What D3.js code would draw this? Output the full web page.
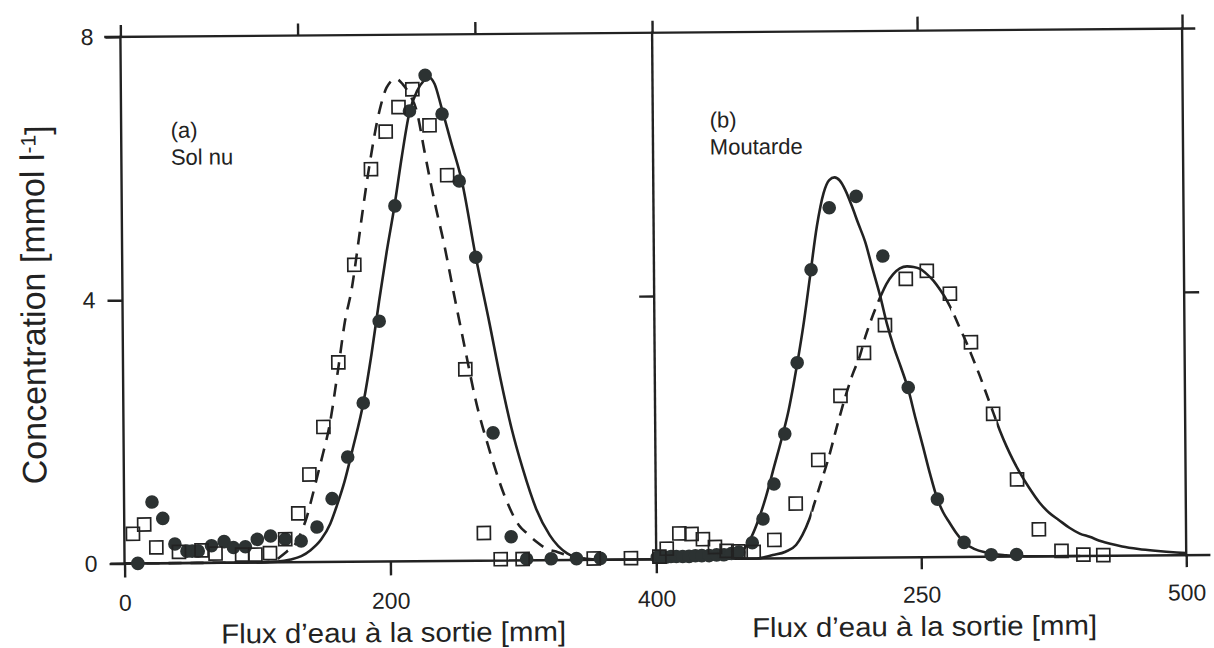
<!DOCTYPE html>
<html><head><meta charset="utf-8">
<script src="https://cdn.jsdelivr.net/npm/d3@7"></script>
<style>
html,body{margin:0;padding:0;background:#fff;}
svg{display:block;background:#fff;}
text{font-family:"Liberation Sans", Arial, Helvetica, sans-serif; fill:#222;}
</style></head><body>
<svg id="chart" width="1214" height="648"></svg>
<script>
// ---------- tick values ----------
const yTicks = [0, 4, 8];
const xTicksA = [0, 200, 400];
const xTicksB = [250, 500];
const topTicksA = [0, 133.3, 266.7, 400];
const topTicksB = [250, 500];

// ---------- panel (a) Sol nu : observed points ----------
const circA_x = [10, 21, 29, 38, 47, 51, 55.5, 65.5, 75, 82, 91, 100, 110, 121, 133, 145, 156.5, 168.5, 180.5, 193, 205.5, 217, 229, 241.5, 254, 266, 278, 291, 302.5, 321, 340, 358];
const circA_y = [0.0, 0.93, 0.68, 0.29, 0.18, 0.18, 0.18, 0.26, 0.32, 0.23, 0.24, 0.35, 0.40, 0.35, 0.32, 0.53, 0.96, 1.59, 2.41, 3.65, 5.40, 6.84, 7.38, 6.79, 5.77, 4.61, 1.94, 0.36, 0.02, 0.02, 0.02, 0.02];
const sqA_x = [6.5, 15, 24, 41, 58, 68.5, 88.5, 98.5, 109.5, 121, 131, 139.6, 150.4, 162, 174.6, 187.7, 199, 208.8, 219.3, 232, 245, 257.5, 270.5, 283, 299.5, 353, 381];
const sqA_y = [0.45, 0.59, 0.24, 0.17, 0.19, 0.14, 0.12, 0.12, 0.14, 0.35, 0.74, 1.33, 2.05, 3.03, 4.51, 5.96, 6.53, 6.90, 7.17, 6.62, 5.86, 2.91, 0.42, 0.02, 0.02, 0.02, 0.02];
// ---------- panel (a) fitted curves ----------
const fitA_solid_x = [0, 100, 115, 125, 133, 140, 148, 155, 160, 166, 172, 181, 187, 193, 199, 205, 211, 217, 223, 228, 231.5, 236, 241, 248, 256, 266, 276, 284, 292, 300, 310, 320, 333, 345, 360, 400];
const fitA_solid_y = [0, 0, 0.01, 0.04, 0.09, 0.18, 0.34, 0.58, 0.85, 1.22, 1.69, 2.45, 3.15, 3.95, 4.7, 5.38, 6.15, 6.82, 7.15, 7.3, 7.35, 7.25, 6.9, 6.37, 5.77, 4.62, 3.6, 2.75, 2.0, 1.4, 0.78, 0.38, 0.1, 0.02, 0, 0];
const fitA_dash_x = [0, 100, 113, 117, 122, 128.4, 133, 137.3, 141, 146, 150, 154.7, 162, 167.3, 172.3, 177.8, 181, 186, 194.5, 200, 207, 212, 217, 222.3, 228.3, 232, 236.6, 241.6, 249.7, 257.5, 265, 275, 287.5, 297, 303.5, 310, 317, 326, 340, 360];
const fitA_dash_y = [0, 0, 0.02, 0.08, 0.16, 0.27, 0.45, 0.68, 0.95, 1.34, 1.65, 2.04, 2.95, 3.66, 4.12, 4.85, 5.3, 5.95, 6.85, 7.2, 7.33, 7.25, 7.1, 6.85, 6.2, 5.8, 5.34, 4.88, 4.02, 3.21, 2.45, 1.69, 0.92, 0.53, 0.4, 0.28, 0.18, 0.12, 0.03, 0];

// ---------- panel (b) Moutarde : observed points ----------
const circB_x = [1, 5, 9, 14, 19, 25, 31, 37, 43, 50, 57, 64, 71, 78, 90.7, 101, 111.6, 122.2, 134.4, 148.2, 165.8, 191.3, 216, 239, 265.7, 290.5, 316, 340];
const circB_y = [0.03, 0.03, 0.03, 0.04, 0.04, 0.04, 0.04, 0.05, 0.05, 0.05, 0.06, 0.06, 0.08, 0.1, 0.24, 0.6, 1.13, 1.89, 2.97, 4.38, 5.32, 5.49, 4.58, 2.58, 0.88, 0.22, 0.03, 0.03];
const sqB_x = [3, 10, 22, 33.5, 44.2, 55.5, 66.5, 77.5, 92, 111.6, 132, 153.6, 175, 197.5, 217.5, 237.5, 257.4, 279, 298.5, 318.9, 341, 361.2, 382.4, 403, 421.8];
const sqB_y = [0.04, 0.16, 0.39, 0.38, 0.3, 0.18, 0.12, 0.11, 0.1, 0.28, 0.83, 1.49, 2.46, 3.11, 3.53, 4.23, 4.35, 4.0, 3.26, 2.17, 1.17, 0.41, 0.08, 0.02, 0.01];
// ---------- panel (b) fitted curves ----------
const fitB_solid_x = [0, 65, 72, 78, 84, 90, 97, 104, 112, 120.6, 126, 130.5, 135.5, 140.4, 147.2, 154, 160.5, 166, 171, 176, 181, 187, 193, 199.4, 206, 213.4, 219.2, 226, 232, 239, 245.5, 252.5, 259, 265.7, 271, 277, 283.4, 290.5, 300, 312, 330, 350, 400];
const fitB_solid_y = [0, 0, 0.02, 0.07, 0.17, 0.33, 0.6, 0.94, 1.4, 1.9, 2.25, 2.61, 3.05, 3.52, 4.28, 5.04, 5.54, 5.74, 5.78, 5.73, 5.59, 5.35, 5.08, 4.8, 4.4, 3.96, 3.56, 3.18, 2.9, 2.55, 2.12, 1.68, 1.26, 0.88, 0.68, 0.52, 0.36, 0.22, 0.12, 0.06, 0.02, 0, 0];
const fitB_dash_x = [0, 95, 110, 122, 132, 138, 144.7, 150, 156, 163, 171, 178.7, 186, 193.9, 199, 204.5, 213.4, 219, 225.5, 232, 238.7, 245, 251, 257.4, 263.5, 269.8, 276, 282.2, 288, 294.4, 300.5, 306.8, 313, 319.2, 325, 331.4, 337.5, 343.8, 352, 362.3, 371, 380, 390, 399.7, 409, 420, 439.6, 455, 470.8, 491, 500];
const fitB_dash_y = [0, 0, 0.05, 0.1, 0.2, 0.35, 0.59, 0.85, 1.15, 1.5, 1.97, 2.4, 2.76, 3.08, 3.36, 3.61, 3.96, 4.15, 4.3, 4.39, 4.42, 4.41, 4.38, 4.3, 4.2, 4.06, 3.9, 3.7, 3.48, 3.25, 3.0, 2.74, 2.46, 2.18, 1.92, 1.67, 1.46, 1.27, 1.05, 0.81, 0.66, 0.55, 0.43, 0.34, 0.29, 0.22, 0.14, 0.1, 0.07, 0.04, 0.03];
// x-ranges of panel (b) squares fit drawn with visible dashes (elsewhere dashes merge into a solid line)
const dashRangesB = [[147, 213], [280, 322]];
const solidRangesB = [[0, 147], [213, 280], [322, 520]];

// ---------- drawing ----------
const svg = d3.select("#chart");
const root = svg.append("g").attr("transform", "rotate(-0.45 655 300)");

const xA = d3.scaleLinear().domain([0, 400]).range([122.5, 654.2]);
const xB = d3.scaleLinear().domain([0, 500]).range([654.2, 1184.2]);
const y = d3.scaleLinear().domain([0, 8]).range([559.3, 32.7]);

const INK = "#222";
const AXW = 2.4;

function styleAxis(g) {
  g.select(".domain").remove();
  g.selectAll(".tick line").attr("stroke", INK).attr("stroke-width", AXW);
  g.selectAll(".tick text").attr("fill", INK).style("font-size", "23px")
    .style("font-family", '"Liberation Sans", Arial, sans-serif');
}

// frame lines
const frame = root.append("g");
frame.append("line").attr("x1", xA(0) - 15).attr("x2", xB(500) + 12).attr("y1", y(8)).attr("y2", y(8));
frame.append("line").attr("x1", xA(0) - 13).attr("x2", xB(500) + 23).attr("y1", y(0)).attr("y2", y(0));
[xA(0), xB(0), xB(500)].forEach(px => {
  frame.append("line").attr("x1", px).attr("x2", px).attr("y1", y(8)).attr("y2", y(0));
});
frame.selectAll("line").attr("stroke", INK).attr("stroke-width", AXW).attr("stroke-linecap", "square");

// y axis (left)
root.append("g").attr("transform", `translate(${xA(0)},0)`)
  .call(d3.axisLeft(y).tickValues(yTicks).tickFormat(d3.format("d")).tickSize(15).tickPadding(12).tickSizeOuter(0))
  .call(styleAxis);
// middle axis tick at 4 (pointing left)
root.append("g").attr("transform", `translate(${xB(0)},0)`)
  .call(d3.axisLeft(y).tickValues([4]).tickFormat("").tickSize(15).tickSizeOuter(0))
  .call(styleAxis);
// right axis tick at 4 (pointing right)
root.append("g").attr("transform", `translate(${xB(500)},0)`)
  .call(d3.axisRight(y).tickValues([4]).tickFormat("").tickSize(15).tickSizeOuter(0))
  .call(styleAxis);
// bottom axes
root.append("g").attr("transform", `translate(0,${y(0)})`)
  .call(d3.axisBottom(xA).tickValues(xTicksA).tickFormat(d3.format("d")).tickSize(14).tickPadding(17).tickSizeOuter(0))
  .call(styleAxis);
root.append("g").attr("transform", `translate(0,${y(0)})`)
  .call(d3.axisBottom(xB).tickValues(xTicksB).tickFormat(d3.format("d")).tickSize(12).tickPadding(17).tickSizeOuter(0))
  .call(styleAxis);
// top ticks
root.append("g").attr("transform", `translate(0,${y(8)})`)
  .call(d3.axisTop(xA).tickValues(topTicksA).tickFormat("").tickSize(12).tickSizeOuter(0))
  .call(styleAxis);
root.append("g").attr("transform", `translate(0,${y(8)})`)
  .call(d3.axisTop(xB).tickValues(topTicksB).tickFormat("").tickSize(14).tickSizeOuter(0))
  .call(styleAxis);

// clip paths for panel (b) dashed/solid segments
const defs = svg.append("defs");
function clipFor(id, ranges) {
  const cp = defs.append("clipPath").attr("id", id);
  ranges.forEach(r => cp.append("rect")
    .attr("x", xB(r[0])).attr("width", xB(r[1]) - xB(r[0]))
    .attr("y", 0).attr("height", 648));
}
clipFor("clipSolidB", solidRangesB);
clipFor("clipDashB", dashRangesB);

function lineFor(xs, ys, xScale) {
  const pts = xs.map((v, i) => [v, ys[i]]);
  return d3.line().x(d => xScale(d[0])).y(d => y(d[1])).curve(d3.curveMonotoneX)(pts);
}
const curves = root.append("g").attr("fill", "none").attr("stroke", INK).attr("stroke-width", 2.6);
curves.append("path").attr("d", lineFor(fitA_solid_x, fitA_solid_y, xA));
curves.append("path").attr("d", lineFor(fitA_dash_x, fitA_dash_y, xA)).attr("stroke-dasharray", "13,9");
curves.append("path").attr("d", lineFor(fitB_solid_x, fitB_solid_y, xB));
curves.append("path").attr("d", lineFor(fitB_dash_x, fitB_dash_y, xB)).attr("clip-path", "url(#clipSolidB)");
curves.append("path").attr("d", lineFor(fitB_dash_x, fitB_dash_y, xB)).attr("clip-path", "url(#clipDashB)").attr("stroke-dasharray", "12,8");

// markers
const CIRC = "#2c3232";
function drawCircles(xs, ys, xScale) {
  root.append("g").selectAll("circle").data(xs.map((v, i) => [v, ys[i]])).join("circle")
    .attr("cx", d => xScale(d[0])).attr("cy", d => y(d[1])).attr("r", 6.8).attr("fill", CIRC);
}
function drawSquares(xs, ys, xScale) {
  const s = 13;
  root.append("g").selectAll("rect").data(xs.map((v, i) => [v, ys[i]])).join("rect")
    .attr("x", d => xScale(d[0]) - s / 2).attr("y", d => y(d[1]) - s / 2)
    .attr("width", s).attr("height", s)
    .attr("fill", "none").attr("stroke", INK).attr("stroke-width", 1.7);
}
drawCircles(circA_x, circA_y, xA);
drawSquares(sqA_x, sqA_y, xA);
drawCircles(circB_x, circB_y, xB);
drawSquares(sqB_x, sqB_y, xB);

// panel labels
const lab = root.append("g").style("font-size", "22px");
lab.append("text").attr("x", 172).attr("y", 134).text("(a)");
lab.append("text").attr("x", 172).attr("y", 161).text("Sol nu");
lab.append("text").attr("x", 711).attr("y", 128).text("(b)");
lab.append("text").attr("x", 711).attr("y", 155).text("Moutarde");

// axis titles
root.append("text").attr("x", 391).attr("y", 640).attr("text-anchor", "middle")
  .attr("textLength", 345).attr("lengthAdjust", "spacingAndGlyphs")
  .style("font-size", "27.5px").text("Flux d’eau à la sortie [mm]");
root.append("text").attr("x", 922).attr("y", 638).attr("text-anchor", "middle")
  .attr("textLength", 345).attr("lengthAdjust", "spacingAndGlyphs")
  .style("font-size", "27.5px").text("Flux d’eau à la sortie [mm]");
const yt = root.append("text").attr("transform", "translate(45,300) rotate(-90)")
  .attr("text-anchor", "middle").style("font-size", "34px");
yt.append("tspan").text("Concentration [mmol l");
yt.append("tspan").attr("dy", "-0.4em").style("font-size", "21px").text("-1");
yt.append("tspan").attr("dy", "0.4em").text("]");
</script>
</body></html>
